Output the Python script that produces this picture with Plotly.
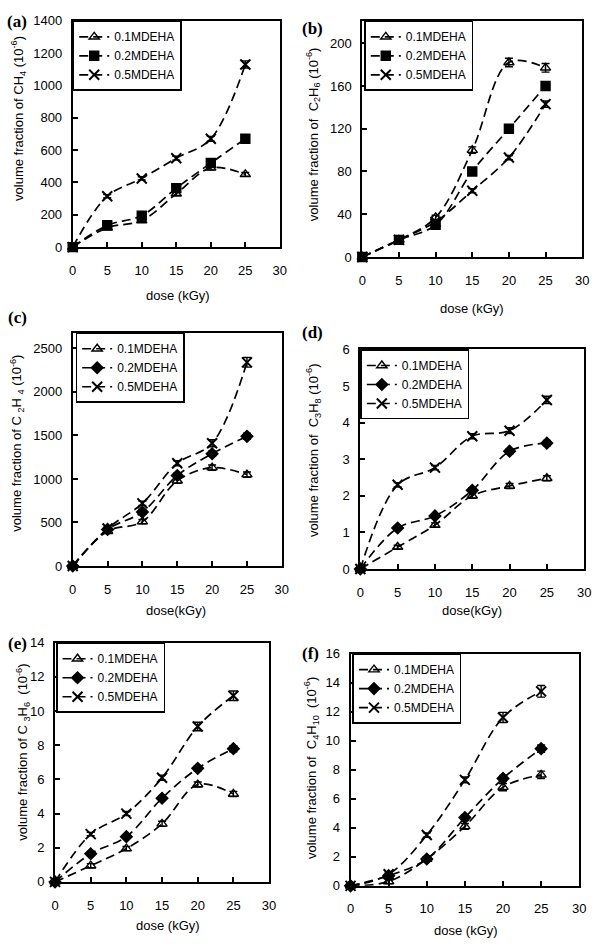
import plotly.graph_objects as go

W, H = 600, 947

dose = [0, 5, 10, 15, 20, 25]
series_names = ["0.1MDEHA", "0.2MDEHA", "0.5MDEHA"]

# (a) CH4
ch4_01 = [0, 120, 165, 330, 490, 450]
ch4_02 = [0, 135, 195, 365, 520, 670]
ch4_05 = [0, 315, 425, 550, 670, 1130]
ch4_err01 = [0, 8, 8, 10, 12, 12]
ch4_err02 = [0, 8, 8, 10, 12, 12]
ch4_err05 = [0, 10, 10, 12, 15, 22]

# (b) C2H6
c2h6_01 = [0, 16, 37, 100, 182, 177]
c2h6_02 = [0, 16, 30, 80, 120, 160]
c2h6_05 = [0, 16, 33, 62, 93, 143]
c2h6_err01 = [0, 1, 2, 3, 4, 4]
c2h6_err02 = [0, 1, 1, 2, 2, 2]
c2h6_err05 = [0, 1, 1, 2, 2, 3]

# (c) C2H4
c2h4_01 = [0, 400, 510, 980, 1130, 1050]
c2h4_02 = [0, 420, 620, 1040, 1290, 1490]
c2h4_05 = [0, 430, 720, 1180, 1410, 2340]
c2h4_err01 = [0, 20, 25, 30, 30, 30]
c2h4_err02 = [0, 20, 25, 30, 30, 35]
c2h4_err05 = [0, 20, 25, 30, 40, 55]

# (d) C3H8
c3h8_01 = [0, 0.6, 1.2, 2.0, 2.27, 2.48]
c3h8_02 = [0, 1.12, 1.45, 2.15, 3.22, 3.44]
c3h8_05 = [0, 2.3, 2.77, 3.63, 3.78, 4.62]
c3h8_err01 = [0, 0.05, 0.06, 0.07, 0.07, 0.07]
c3h8_err02 = [0, 0.05, 0.05, 0.07, 0.07, 0.07]
c3h8_err05 = [0, 0.06, 0.06, 0.07, 0.08, 0.1]

# (e) C3H6
c3h6_01 = [0, 0.95, 1.95, 3.4, 5.7, 5.15]
c3h6_02 = [0, 1.65, 2.65, 4.9, 6.65, 7.8]
c3h6_05 = [0, 2.8, 4.0, 6.1, 9.1, 10.9]
c3h6_err01 = [0, 0.12, 0.12, 0.15, 0.15, 0.15]
c3h6_err02 = [0, 0.1, 0.1, 0.12, 0.15, 0.18]
c3h6_err05 = [0, 0.1, 0.12, 0.15, 0.25, 0.28]

# (f) C4H10
c4h10_01 = [0, 0.3, 1.85, 4.1, 6.8, 7.65]
c4h10_02 = [0, 0.7, 1.85, 4.7, 7.4, 9.45]
c4h10_05 = [0, 0.8, 3.5, 7.3, 11.6, 13.4]
c4h10_err01 = [0, 0.15, 0.15, 0.2, 0.25, 0.25]
c4h10_err02 = [0, 0.15, 0.15, 0.2, 0.2, 0.25]
c4h10_err05 = [0, 0.15, 0.15, 0.2, 0.35, 0.4]

x_ticks = [0, 5, 10, 15, 20, 25, 30]

panels = [
    dict(label="(a)", ytitle="volume fraction of CH<sub>4</sub> (10<sup>-6</sup>)",
         xtitle="dose (kGy)", data=[ch4_01, ch4_02, ch4_05],
         err=[ch4_err01, ch4_err02, ch4_err05],
         syms=["triangle-up-open", "square", "x-thin-open"],
         yrange=[0, 1400], dtick=200,
         box=(70, 281, 14, 244), lab=(1, 15), yt=(15, 113), xt=(177, 293),
         leg=(70, 14)),
    dict(label="(b)", ytitle="volume fraction of  C<sub>2</sub>H<sub>6</sub> (10<sup>-6</sup>)",
         xtitle="dose (kGy)", data=[c2h6_01, c2h6_02, c2h6_05],
         err=[c2h6_err01, c2h6_err02, c2h6_err05],
         syms=["triangle-up-open", "square", "x-thin-open"],
         yrange=[0, 221], dtick=40,
         box=(365, 589, 14, 254), lab=(302, 22), yt=(315, 129), xt=(477, 306),
         leg=(367, 14)),
    dict(label="(c)", ytitle="volume fraction of C <sub>2</sub>H <sub>4</sub> (10<sup>-6</sup>)",
         xtitle="dose(kGy)", data=[c2h4_01, c2h4_02, c2h4_05],
         err=[c2h4_err01, c2h4_err02, c2h4_err05],
         syms=["triangle-up-open", "diamond", "x-thin-open"],
         yrange=[0, 2680], dtick=500,
         box=(70, 283, 331, 568), lab=(2, 315), yt=(13, 443), xt=(175, 613),
         leg=(73, 331)),
    dict(label="(d)", ytitle="volume fraction of  C<sub>3</sub>H<sub>8</sub> (10<sup>-6</sup>)",
         xtitle="dose(kGy)", data=[c3h8_01, c3h8_02, c3h8_05],
         err=[c3h8_err01, c3h8_err02, c3h8_err05],
         syms=["triangle-up-open", "diamond", "x-thin-open"],
         yrange=[0, 6], dtick=1,
         box=(363, 591, 348, 571), lab=(302, 331), yt=(315, 450), xt=(477, 613),
         leg=(363, 348)),
    dict(label="(e)", ytitle="volume fraction of C <sub>3</sub>H<sub>6</sub>  (10<sup>-6</sup>)",
         xtitle="dose (kGy)", data=[c3h6_01, c3h6_02, c3h6_05],
         err=[c3h6_err01, c3h6_err02, c3h6_err05],
         syms=["triangle-up-open", "diamond", "x-thin-open"],
         yrange=[0, 14], dtick=2,
         box=(52, 270, 646, 889), lab=(2, 647), yt=(19, 757), xt=(167, 933),
         leg=(53, 646)),
    dict(label="(f)", ytitle="volume fraction of  C<sub>4</sub>H<sub>10</sub>  (10<sup>-6</sup>)",
         xtitle="dose (kGy)", data=[c4h10_01, c4h10_02, c4h10_05],
         err=[c4h10_err01, c4h10_err02, c4h10_err05],
         syms=["triangle-up-open", "diamond", "x-thin-open"],
         yrange=[0, 16], dtick=2,
         box=(353, 586, 657, 893), lab=(302, 657), yt=(313, 773), xt=(471, 938),
         leg=(355, 657)),
]

FONT = "Liberation Sans, Arial, sans-serif"

def px_x(p):
    return p / W

def px_y(p):
    return 1 - p / H

fig = go.Figure()
layout = dict(width=W, height=H, margin=dict(l=0, r=0, t=0, b=0),
              paper_bgcolor="white", plot_bgcolor="white",
              font=dict(family=FONT, color="black", size=13),
              showlegend=True)
annotations = []

for i, p in enumerate(panels):
    n = "" if i == 0 else str(i + 1)
    xa, ya = "x" + n, "y" + n
    legname = "legend" + n
    x0, x1, y0, y1 = p["box"]
    for k in range(3):
        sym = p["syms"][k]
        is_x = sym.startswith("x")
        fig.add_trace(go.Scatter(
            x=dose, y=p["data"][k], xaxis=xa, yaxis=ya, name=series_names[k],
            legend=legname, mode="lines+markers", cliponaxis=False,
            line=dict(color="black", width=1.7, dash="9px,5px", shape="spline",
                      smoothing=1),
            marker=dict(symbol=sym, size=10 if is_x else 9, color="black",
                        line=dict(color="black", width=2 if is_x else 1.4)),
            error_y=dict(type="data", array=p["err"][k], visible=True,
                         color="black", thickness=1.4, width=4),
        ))
    layout["xaxis" + n] = dict(
        domain=[px_x(x0), px_x(x1)], anchor=ya, range=[0, 30],
        tickmode="array", tickvals=x_ticks, ticks="inside", ticklen=5,
        tickwidth=1.5, tickcolor="black", showline=True, linewidth=2,
        linecolor="black", mirror=True, showgrid=False, zeroline=False,
        tickfont=dict(family=FONT, size=13), ticklabelstandoff=10)
    layout["yaxis" + n] = dict(
        domain=[px_y(y1), px_y(y0)], anchor=xa, range=p["yrange"],
        dtick=p["dtick"], tick0=0, ticks="inside", ticklen=5, tickwidth=1.5,
        tickcolor="black", showline=True, linewidth=2, linecolor="black",
        mirror=True, showgrid=False, zeroline=False,
        tickfont=dict(family=FONT, size=13), ticklabelstandoff=6)
    lx, ly = p["leg"]
    layout[legname] = dict(
        x=px_x(lx), y=px_y(ly), xanchor="left", yanchor="top",
        bgcolor="white", bordercolor="black", borderwidth=1.5,
        font=dict(family=FONT, size=12), tracegroupgap=0,
        itemwidth=30)
    annotations.append(dict(
        text="<b>" + p["label"] + "</b>", xref="paper", yref="paper",
        x=px_x(p["lab"][0]), y=px_y(p["lab"][1]), xanchor="left",
        yanchor="middle", showarrow=False,
        font=dict(family="Liberation Serif, Times New Roman, serif", size=17)))
    annotations.append(dict(
        text=p["ytitle"], xref="paper", yref="paper",
        x=px_x(p["yt"][0]), y=px_y(p["yt"][1]), xanchor="center",
        yanchor="middle", textangle=-90, showarrow=False,
        font=dict(family=FONT, size=13)))
    annotations.append(dict(
        text=p["xtitle"], xref="paper", yref="paper",
        x=px_x(p["xt"][0]), y=px_y(p["xt"][1]), xanchor="center",
        yanchor="middle", showarrow=False,
        font=dict(family=FONT, size=13)))

layout["annotations"] = annotations
fig.update_layout(**layout)
fig.write_html("out.html",
               config={"displayModeBar": False},
               post_script="document.body.style.margin='0';"
                           "document.body.style.overflow='hidden';")
